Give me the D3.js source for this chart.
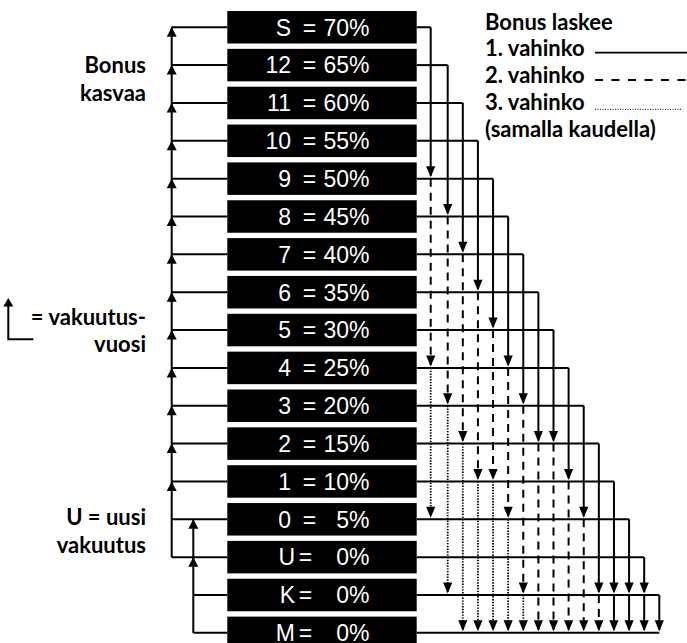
<!DOCTYPE html>
<html><head><meta charset="utf-8">
<script src="https://cdn.jsdelivr.net/npm/d3@7"></script>
<style>body{margin:0;background:#fff} svg{display:block}</style>
</head><body>
<svg id="c" width="687" height="643"></svg>
<script>
// bonus classes, top to bottom
const rows = ["S","12","11","10","9","8","7","6","5","4","3","2","1","0","U","K","M"];
const percents = [70,65,60,55,50,45,40,35,30,25,20,15,10,5,0,0,0];
// drop targets for source rows S..K (in order): 1st, 2nd, 3rd claim in same period
const claim1 = ["9","8","7","6","5","4","3","2","2","1","0","K","K","K","K","M"];
const claim2 = ["4","3","2","1","1","0","K","M","M","M","M","M","M","M","M",null];
const claim2Dashed = [true,true,true,true,true,true,true,true,true,true,true,true,false,false,false,null];
const claim3 = ["0","K","M","M","M","M","M",null,null,null,null,null,null,null,null,null];
// yearly rise (left side)
const mainFeed = ["S","12","11","10","9","8","7","6","5","4","3","2","1","0","U"];
const mainArrows = ["S","12","11","10","9","8","7","6","5","4","3","2","1"];
const lowFeed = ["0","K","M"];
const lowArrows = ["0","U"];
// texts
const legendTitle = "Bonus laskee";
const legendItems = ["1. vahinko","2. vahinko","3. vahinko"];
const legendNote = "(samalla kaudella)";
const leftTop = ["Bonus","kasvaa"];
const leftMid = ["= vakuutus-","vuosi"];
const leftLow = ["U = uusi","vakuutus"];

const svg = d3.select("#c");
const pitch = 37.85, gap = 5.35, top0 = 11;
const y = d3.scaleBand().domain(rows)
  .range([top0, top0 + rows.length*pitch - gap]).paddingInner(gap/pitch).paddingOuter(0);
const yc = r => y(r) + y.bandwidth()/2;
const col = d3.scaleLinear().domain([0,1,15]).range([430.7,447.7,659.3]);
const boxL = 227.3, boxR = 416.7;
const xMain = 171.7, xLow = 193.3;

const lines = svg.append("g").attr("fill","none").attr("stroke","#000").attr("stroke-width",2);
const arrows = svg.append("g").attr("fill","#000");
const down = (x,yy) => arrows.append("path").attr("d",`M${x},${yy} L${x-4.6},${yy-11} L${x+4.6},${yy-11} Z`);
const up = (x,yy) => arrows.append("path").attr("d",`M${x},${yy} L${x-5},${yy+9.5} L${x+5},${yy+9.5} Z`);
const styleSeg = (p, kind) => {
  if (kind==="dash") p.attr("stroke-dasharray","8,6");
  if (kind==="dot") p.attr("stroke-dasharray","1.4,1.4").attr("stroke-width",1.8);
  return p;
};

// left side
mainFeed.forEach(r => lines.append("line").attr("x1",xMain).attr("x2",boxL).attr("y1",yc(r)).attr("y2",yc(r)));
lines.append("line").attr("x1",xMain).attr("x2",xMain).attr("y1",yc(mainFeed[0])).attr("y2",yc(mainFeed[mainFeed.length-1]));
mainArrows.forEach(r => up(xMain, yc(r)));
lowFeed.slice(1).forEach(r => lines.append("line").attr("x1",xLow).attr("x2",boxL).attr("y1",yc(r)).attr("y2",yc(r)));
lines.append("line").attr("x1",xLow).attr("x2",xLow).attr("y1",yc(lowFeed[0])).attr("y2",yc(lowFeed[lowFeed.length-1]));
lowArrows.forEach(r => up(xLow, yc(r)));

// right side
rows.forEach((r,i) => {
  const ci = Math.min(i, 15);
  const yy = yc(r);
  lines.append("line").attr("x1",boxR).attr("x2",col(ci)).attr("y1",yy).attr("y2",yy);
  if (i > 15) return;
  const x = col(i);
  const segs = [];
  if (claim1[i]) segs.push([r, claim1[i], "solid"]);
  if (claim2[i]) segs.push([claim1[i], claim2[i], claim2Dashed[i] ? "dash" : "solid"]);
  if (claim3[i]) segs.push([claim2[i], claim3[i], "dot"]);
  segs.forEach(([a,b,k]) => {
    styleSeg(lines.append("line").attr("x1",x).attr("x2",x).attr("y1",yc(a)).attr("y2",yc(b)-3), k);
    down(x, yc(b)-1.5);
  });
});

// boxes
const boxes = svg.append("g").selectAll("g").data(rows).join("g");
boxes.append("rect").attr("x",boxL).attr("width",boxR-boxL).attr("y",d=>y(d)).attr("height",y.bandwidth()).attr("fill","#000");
const isLetter = d => /[UKM]/.test(d);
const bt = {fill:"#fff","font-family":"'Liberation Sans', Arial, sans-serif","font-size":"23px"};
const addT = (sel, fn) => { const t = sel.append("text"); Object.entries(bt).forEach(([k,v])=>t.attr(k,v)); fn(t); };
addT(boxes, t => t.attr("x",d=>isLetter(d)?295:291).attr("y",d=>yc(d)+8.3).attr("text-anchor","end").text(d=>d));
addT(boxes, t => t.attr("x",d=>isLetter(d)?305.5:309.5).attr("y",d=>yc(d)+8.3).attr("text-anchor","middle").text("="));
addT(boxes, t => t.attr("x",369.5).attr("y",d=>yc(d)+8.3).attr("text-anchor","end").text((d,i)=>percents[i]+"%"));

// labels
const lab = svg.append("g").attr("font-family","Lato, 'Noto Sans', sans-serif").attr("font-weight",700).attr("font-size","22px").attr("fill","#000");
const block = (arr, x, y0, anchor, step) => arr.forEach((s,i)=>lab.append("text").attr("x",x).attr("y",y0+i*step).attr("text-anchor",anchor).text(s));
block(leftTop, 146, 73.3, "end", 27.5);
block(leftMid, 146, 325, "end", 26.7);
block(leftLow, 146, 525, "end", 27.8);
block([legendTitle, ...legendItems, legendNote], 485, 29.5, "start", 26.75);

// legend line samples
const lg = svg.append("g").attr("stroke","#000").attr("fill","none");
lg.append("line").attr("x1",595).attr("x2",687).attr("y1",52.7).attr("y2",52.7).attr("stroke-width",1.8);
lg.append("line").attr("x1",595).attr("x2",687).attr("y1",80).attr("y2",80).attr("stroke-width",1.8).attr("stroke-dasharray","8,8.5");
lg.append("line").attr("x1",595).attr("x2",682).attr("y1",109.3).attr("y2",109.3).attr("stroke-width",1).attr("stroke-dasharray","1,1.5");
// year icon
lg.append("path").attr("d","M8.3,304 V339.3 H33.3").attr("stroke-width",2);
svg.append("path").attr("d","M8.3,298 L3.3,306.5 L13.3,306.5 Z").attr("fill","#000");
</script>
</body></html>
